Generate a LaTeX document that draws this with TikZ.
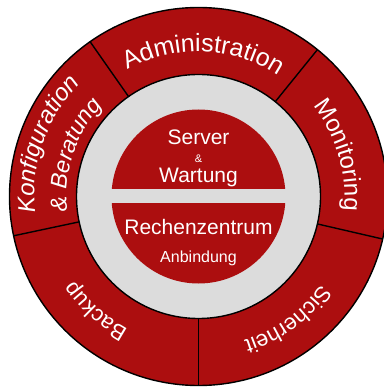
\documentclass[tikz,border=0pt]{standalone}
\usepackage{fontspec}
\setmainfont{Liberation Sans}
\usetikzlibrary{decorations.text}
\definecolor{ringred}{RGB}{172,14,15}
\definecolor{ringgray}{RGB}{220,220,220}
\newcommand\ringfont[1]{\fontsize{#1}{#1}\selectfont\color{white}}

\begin{document}
\begin{tikzpicture}[x=1pt,y=1pt,
  sep/.style={line width=1.4pt},
  ringtext/.style={decorate,decoration={text along path,text align=center,text={#1}}},
  midtext/.style={text=white,anchor=base,inner sep=0pt}]
  \useasboundingbox (-198.5,-190.5) rectangle (184.5,196.5);
  \filldraw[fill=ringred,sep] (0,0) circle (189);
  \filldraw[fill=ringgray,sep] (0,0) circle (122);
  \fill[ringred] (0,0) circle (87);
  \fill[ringgray] (-90,-7) rectangle (90,7);
  \foreach \a in {51,125,192,270,347}
    \draw[sep] (\a:122) -- (\a:189);
  \path[ringtext={|\ringfont{25}|Administration}] (128:145) arc[start angle=128,end angle=48,radius=145];
  \path[ringtext={|\ringfont{24}|Monitoring}] (56.5:146) arc[start angle=56.5,end angle=-23.5,radius=146];
  \path[ringtext={|\ringfont{22}|Sicherheit}] (346:151) arc[start angle=346,end angle=266,radius=151];
  \path[ringtext={|\ringfont{22}|Backup}] (268:150) arc[start angle=268,end angle=188,radius=150];
  \path[ringtext={|\ringfont{24}\itshape|Konfiguration}] (201:164) arc[start angle=201,end angle=121,radius=164];
  \path[ringtext={|\ringfont{23}\itshape|{\&} Beratung}] (201.5:132) arc[start angle=201.5,end angle=121.5,radius=132];
  \node[midtext,font=\fontsize{21}{21}\selectfont] (server) at (0,51.5) {Server};
  \node[midtext,font=\fontsize{11}{11}\selectfont] (und) at (0,33.5) {\&};
  \node[midtext,font=\fontsize{21}{21}\selectfont] (wartung) at (0,13.5) {Wartung};
  \node[midtext,font=\fontsize{21}{21}\selectfont] (rz) at (0,-38.5) {Rechenzentrum};
  \node[midtext,font=\fontsize{16}{16}\selectfont] (anbindung) at (0,-66.5) {Anbindung};
\end{tikzpicture}
\end{document}
